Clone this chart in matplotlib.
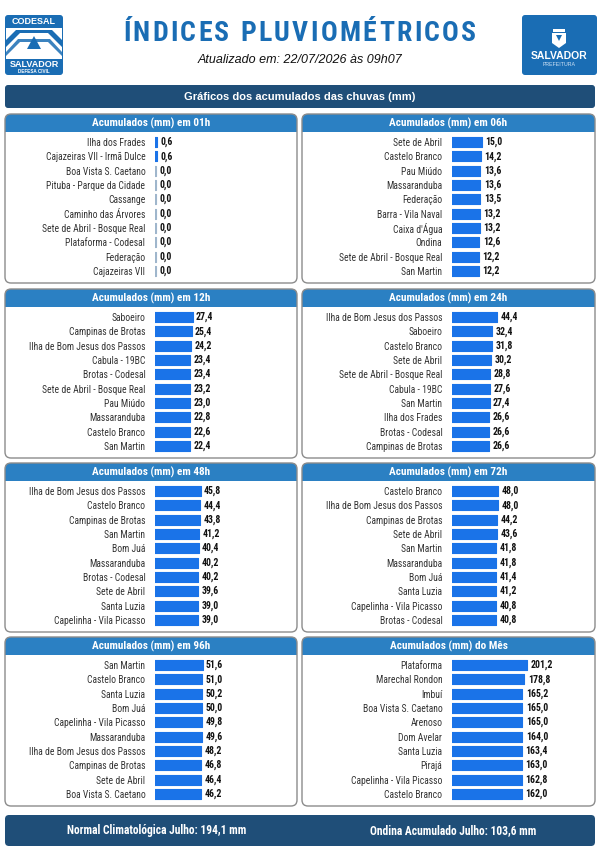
import matplotlib
matplotlib.use("Agg")
import matplotlib.pyplot as plt
import numpy as np
from matplotlib.patches import FancyBboxPatch, Rectangle, Polygon

NARROW = ['Liberation Sans Narrow', 'Roboto Condensed', 'Liberation Sans', 'DejaVu Sans']
plt.rcParams['font.family'] = ['Liberation Sans', 'DejaVu Sans']

# dados (mm)
titles = ["Acumulados (mm) em 01h", "Acumulados (mm) em 06h",
          "Acumulados (mm) em 12h", "Acumulados (mm) em 24h",
          "Acumulados (mm) em 48h", "Acumulados (mm) em 72h",
          "Acumulados (mm) em 96h", "Acumulados (mm) do Mês"]

names_01h = ["Ilha dos Frades", "Cajazeiras VII - Irmã Dulce", "Boa Vista S. Caetano",
             "Pituba - Parque da Cidade", "Cassange", "Caminho das Árvores",
             "Sete de Abril - Bosque Real", "Plataforma - Codesal", "Federação", "Cajazeiras VII"]
vals_01h = [0.6, 0.6, 0.0, 0.0, 0.0, 0.0, 0.0, 0.0, 0.0, 0.0]

names_06h = ["Sete de Abril", "Castelo Branco", "Pau Miúdo", "Massaranduba", "Federação",
             "Barra - Vila Naval", "Caixa d'Água", "Ondina", "Sete de Abril - Bosque Real", "San Martin"]
vals_06h = [15.0, 14.2, 13.6, 13.6, 13.5, 13.2, 13.2, 12.6, 12.2, 12.2]

names_12h = ["Saboeiro", "Campinas de Brotas", "Ilha de Bom Jesus dos Passos", "Cabula - 19BC",
             "Brotas - Codesal", "Sete de Abril - Bosque Real", "Pau Miúdo", "Massaranduba",
             "Castelo Branco", "San Martin"]
vals_12h = [27.4, 25.4, 24.2, 23.4, 23.4, 23.2, 23.0, 22.8, 22.6, 22.4]

names_24h = ["Ilha de Bom Jesus dos Passos", "Saboeiro", "Castelo Branco", "Sete de Abril",
             "Sete de Abril - Bosque Real", "Cabula - 19BC", "San Martin", "Ilha dos Frades",
             "Brotas - Codesal", "Campinas de Brotas"]
vals_24h = [44.4, 32.4, 31.8, 30.2, 28.8, 27.6, 27.4, 26.6, 26.6, 26.6]

names_48h = ["Ilha de Bom Jesus dos Passos", "Castelo Branco", "Campinas de Brotas", "San Martin",
             "Bom Juá", "Massaranduba", "Brotas - Codesal", "Sete de Abril", "Santa Luzia",
             "Capelinha - Vila Picasso"]
vals_48h = [45.8, 44.4, 43.8, 41.2, 40.4, 40.2, 40.2, 39.6, 39.0, 39.0]

names_72h = ["Castelo Branco", "Ilha de Bom Jesus dos Passos", "Campinas de Brotas", "Sete de Abril",
             "San Martin", "Massaranduba", "Bom Juá", "Santa Luzia", "Capelinha - Vila Picasso",
             "Brotas - Codesal"]
vals_72h = [48.0, 48.0, 44.2, 43.6, 41.8, 41.8, 41.4, 41.2, 40.8, 40.8]

names_96h = ["San Martin", "Castelo Branco", "Santa Luzia", "Bom Juá", "Capelinha - Vila Picasso",
             "Massaranduba", "Ilha de Bom Jesus dos Passos", "Campinas de Brotas", "Sete de Abril",
             "Boa Vista S. Caetano"]
vals_96h = [51.6, 51.0, 50.2, 50.0, 49.8, 49.6, 48.2, 46.8, 46.4, 46.2]

names_mes = ["Plataforma", "Marechal Rondon", "Imbuí", "Boa Vista S. Caetano", "Arenoso",
             "Dom Avelar", "Santa Luzia", "Pirajá", "Capelinha - Vila Picasso", "Castelo Branco"]
vals_mes = [201.2, 178.8, 165.2, 165.0, 165.0, 164.0, 163.4, 163.0, 162.8, 162.0]

all_names = [names_01h, names_06h, names_12h, names_24h, names_48h, names_72h, names_96h, names_mes]
all_vals = [vals_01h, vals_06h, vals_12h, vals_24h, vals_48h, vals_72h, vals_96h, vals_mes]

title = "ÍNDICES PLUVIOMÉTRICOS"
updated = "Atualizado em: 22/07/2026 às 09h07"
normal_txt = "Normal Climatológica Julho: 194,1 mm"
ondina_txt = "Ondina Acumulado Julho: 103,6 mm"

# cores
BLUE_TITLE = '#1a6db4'
DARK = '#1f4e78'
HEAD = '#2b80c3'
BAR = '#1a73e8'
ZERO = '#9fb6cc'

W, H = 600, 849
fig = plt.figure(figsize=(W / 100, H / 100), dpi=100)
fig.patch.set_facecolor('white')

bg = fig.add_axes([0, 0, 1, 1])
bg.set_xlim(0, W)
bg.set_ylim(H, 0)
bg.axis('off')
renderer = fig.canvas.get_renderer()


def rbox(x0, y0, x1, y1, r, fc, ec='none', lw=0, z=1):
    p = FancyBboxPatch((x0, y0), x1 - x0, y1 - y0,
                       boxstyle=f"round,pad=0,rounding_size={r}",
                       fc=fc, ec=ec, lw=lw, zorder=z)
    bg.add_patch(p)
    return p


# ---- cabeçalho: título com espaçamento entre letras ----
t_left, t_right = 123, 476
chars = []
for ch in title:
    t = bg.text(0, 33, ch, ha='left', va='center', family=NARROW,
                fontsize=20, fontweight='bold', color=BLUE_TITLE)
    chars.append((t, t.get_window_extent(renderer).width))
total = sum(w for _, w in chars)
track = (t_right - t_left - total) / (len(chars) - 1)
x = t_left
for t, w in chars:
    t.set_x(x)
    x += w + track

bg.text(300, 60, updated, ha='center', va='center', fontsize=9, style='italic', color='#111111')

# logo codesal
rbox(5, 15, 63, 75, 3, BLUE_TITLE)
bg.text(34, 21.5, "CODESAL", ha='center', va='center', fontsize=6.5, fontweight='bold', color='white')
bg.add_patch(Rectangle((6, 28), 56, 31, fc='white', zorder=2))
bg.add_patch(Polygon([(6, 47), (20, 33), (48, 33), (62, 47), (62, 40), (52, 30), (16, 30), (6, 40)],
                     fc=BLUE_TITLE, zorder=3))
bg.add_patch(Polygon([(6, 56), (20, 42), (48, 42), (62, 56), (62, 52), (50, 39), (18, 39), (6, 52)],
                     fc=BLUE_TITLE, zorder=3, alpha=0.85))
bg.add_patch(Polygon([(34, 36), (27, 49), (41, 49)], fc=BLUE_TITLE, zorder=4))
bg.text(34, 64, "SALVADOR", ha='center', va='center', fontsize=6.5, fontweight='bold', color='white')
bg.text(34, 71, "DEFESA CIVIL", ha='center', va='center', fontsize=3.3, fontweight='bold', color='white')

# logo prefeitura
rbox(522, 15, 597, 75, 3, BLUE_TITLE)
bg.add_patch(Polygon([(552, 33), (566, 33), (566, 43), (559, 48), (552, 43)], fc='white', zorder=3))
bg.add_patch(Rectangle((553, 29), 12, 3, fc='white', zorder=3))
bg.add_patch(Polygon([(556, 35), (559, 41), (562, 35)], fc=BLUE_TITLE, zorder=4))
bg.text(559.5, 56, "SALVADOR", ha='center', va='center', fontsize=7.5, fontweight='bold', color='white')
bg.text(559.5, 64, "PREFEITURA", ha='center', va='center', fontsize=3.8, color='#cfe2f5')

# faixa
rbox(5, 85, 595, 108, 3, DARK)
bg.text(300, 96.5, "Gráficos dos acumulados das chuvas (mm)", ha='center', va='center',
        fontsize=8, fontweight='bold', color='white')

# rodapé
rbox(5, 815, 595, 846, 4, DARK)
bg.text(157, 830.5, normal_txt, ha='center', va='center', family=NARROW,
        fontsize=8.3, fontweight='bold', color='white')
bg.text(453, 830.5, ondina_txt, ha='center', va='center', family=NARROW,
        fontsize=8.3, fontweight='bold', color='white')

# ---- painéis ----
P = 0.25
fwd = lambda v: np.clip(v, 0, None) ** P
inv = lambda u: np.clip(u, 0, None) ** (1 / P)
X_LO, X_HI = 0.41, 1244
ZERO_MARK = 0.52

box_x = [(5, 297), (302, 595)]
bar_x0 = [155, 452]
box_top = [114, 289, 463, 637]
row_h = 14.33
ax_w = 130

for k in range(8):
    col, row = k % 2, k // 2
    bx0, bx1 = box_x[col]
    top = box_top[row]
    bot = top + 169
    # moldura
    rbox(bx0, top, bx1, bot, 6, 'white', z=1)
    rbox(bx0, top, bx1, top + 17.5, 6, HEAD, z=2)
    bg.add_patch(Rectangle((bx0, top + 9), bx1 - bx0, 8.5, fc=HEAD, zorder=2))
    rbox(bx0, top, bx1, bot, 6, 'none', ec='#8c8c8c', lw=1, z=3)
    bg.text((bx0 + bx1) / 2, top + 9, titles[k], ha='center', va='center', family=NARROW,
            fontsize=8.1, fontweight='bold', color='white', zorder=4)

    names = all_names[k]
    vals = np.array(all_vals[k])
    n = len(vals)
    first = top + 28
    ax_top = first - row_h / 2
    ax = fig.add_axes([bar_x0[col] / W, 1 - (ax_top + n * row_h) / H, ax_w / W, n * row_h / H])
    ax.set_xscale('function', functions=(fwd, inv))
    y = np.arange(n)
    cols = [BAR if v > 0 else ZERO for v in vals]
    ax.barh(y, np.where(vals > 0, vals, ZERO_MARK), height=0.68, color=cols,
            edgecolor=cols, linewidth=0.8, joinstyle='round')
    for i, v in enumerate(vals):
        ax.annotate(f"{v:.1f}".replace('.', ','), (max(v, ZERO_MARK), i), xytext=(2.5, 0),
                    textcoords='offset points', va='center', ha='left', family=NARROW,
                    fontsize=7, fontweight='bold', color='#111111')
    ax.set_xlim(X_LO, X_HI)
    ax.set_ylim(n - 0.5, -0.5)
    ax.set_yticks(y, labels=names, family=NARROW)
    ax.tick_params(axis='y', length=0, pad=7, labelsize=6.9, labelcolor='#333333')
    ax.set_xticks([])
    ax.xaxis.set_minor_locator(matplotlib.ticker.NullLocator())
    for s in ax.spines.values():
        s.set_visible(False)
    ax.patch.set_alpha(0)

fig.savefig("out.png", dpi=100)
